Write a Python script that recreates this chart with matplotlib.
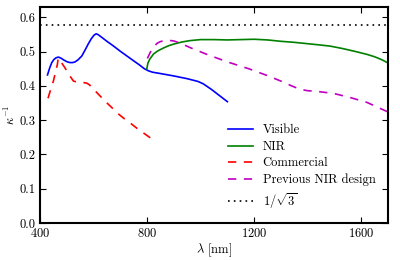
import numpy as np
import matplotlib
matplotlib.use("Agg")
import matplotlib.pyplot as plt

plt.rcParams['font.family'] = 'serif'
plt.rcParams['font.serif'] = ['cmr10', 'DejaVu Serif']
plt.rcParams['mathtext.fontset'] = 'cm'
plt.rcParams['axes.formatter.use_mathtext'] = True
plt.rcParams['axes.unicode_minus'] = False

vis_x = [428, 436, 444, 452, 460, 469, 478, 490, 502, 512, 522, 531, 542, 556, 568, 580, 592, 602, 610,
         618, 630, 650, 675, 700, 725, 750, 770, 790, 805, 820, 850, 900, 950, 990, 1010, 1040, 1070, 1100]
vis_y = [0.432, 0.452, 0.468, 0.477, 0.482, 0.484, 0.481, 0.475, 0.470, 0.468, 0.468, 0.470, 0.476, 0.487, 0.504,
         0.522, 0.538, 0.548, 0.552, 0.549, 0.542, 0.530, 0.516, 0.501, 0.487, 0.473, 0.462, 0.450, 0.444, 0.440,
         0.436, 0.429, 0.421, 0.413, 0.406, 0.390, 0.372, 0.354]

nir_x = [799, 803, 810, 824, 840, 860, 880, 900, 930, 960, 1000, 1050, 1100, 1150, 1200, 1250, 1300, 1350,
         1400, 1450, 1484, 1530, 1580, 1621, 1650, 1675, 1700]
nir_y = [0.450, 0.466, 0.478, 0.493, 0.502, 0.510, 0.517, 0.522, 0.528, 0.532, 0.535, 0.535, 0.534, 0.535,
         0.536, 0.534, 0.530, 0.527, 0.523, 0.519, 0.516, 0.509, 0.500, 0.492, 0.485, 0.477, 0.467]

com_x = [430, 440, 450, 458, 465, 468, 480, 493, 508, 525, 545, 560, 575, 585, 593, 608, 624, 645, 668,
         690, 717, 740, 766, 795, 822]
com_y = [0.364, 0.390, 0.414, 0.440, 0.463, 0.481, 0.468, 0.453, 0.433, 0.414, 0.410, 0.410, 0.408, 0.403,
         0.396, 0.384, 0.371, 0.354, 0.337, 0.320, 0.303, 0.290, 0.274, 0.258, 0.243]

prev_x = [801, 812, 825, 837, 849, 865, 880, 900, 920, 960, 1023, 1100, 1180, 1253, 1303, 1340, 1372, 1400,
          1434, 1497, 1559, 1621, 1683, 1700]
prev_y = [0.480, 0.498, 0.514, 0.524, 0.529, 0.532, 0.533, 0.531, 0.526, 0.512, 0.492, 0.470, 0.450, 0.429,
          0.413, 0.400, 0.390, 0.386, 0.384, 0.378, 0.366, 0.352, 0.330, 0.324]

ref_x = [400, 1700]
ref_val = 1 / np.sqrt(3)

fig = plt.figure(figsize=(4, 2.6), dpi=100)
ax = fig.add_axes([0.1, 0.142, 0.87, 0.831])

ax.plot(vis_x, vis_y, color='blue', lw=1.2, label='Visible')
ax.plot(nir_x, nir_y, color='green', lw=1.2, label='NIR')
ax.plot(com_x, com_y, color='red', lw=1.2, dashes=(5, 4.5), label='Commercial')
ax.plot(prev_x, prev_y, color='m', lw=1.2, dashes=(5, 4.5), label='Previous NIR design')
ax.plot(ref_x, [ref_val, ref_val], color='black', lw=1.2, dashes=(1, 2.5), label=r'$1/\sqrt{3}$')

ax.set_xlim(400, 1700)
ax.set_ylim(0, 0.63)
ax.set_xticks([400, 800, 1200, 1600])
ax.set_yticks([0.0, 0.1, 0.2, 0.3, 0.4, 0.5, 0.6])
ax.set_yticklabels(['0.0', '0.1', '0.2', '0.3', '0.4', '0.5', '0.6'])
ax.tick_params(direction='in', top=True, right=True, labelsize=9, length=4, width=0.8, pad=3)
for s in ax.spines.values():
    s.set_linewidth(1.5)

ax.set_xlabel(r'$\lambda$ [nm]', fontsize=9, labelpad=1)
ax.set_ylabel(r'$\kappa^{-1}$', fontsize=9, labelpad=1)

leg = ax.legend(loc='lower right', frameon=False, fontsize=9, handlelength=2.0,
                labelspacing=0.35, borderaxespad=0.6)

fig.savefig('out.png', dpi=100)
